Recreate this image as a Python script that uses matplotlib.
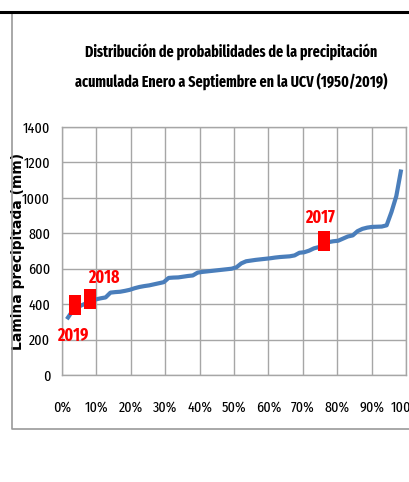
import matplotlib
matplotlib.use("Agg")
import matplotlib.pyplot as plt
from matplotlib.lines import Line2D
from matplotlib.ticker import PercentFormatter
import numpy as np

# precipitacion acumulada Enero-Septiembre (mm), ordenada de menor a mayor
lamina = [315, 355, 380, 393, 405, 415, 427, 433, 438, 465,
          468, 470, 475, 481, 490, 497, 502, 506, 512, 518,
          524, 548, 550, 551, 555, 559, 562, 578, 582, 585,
          588, 591, 594, 597, 600, 608, 630, 642, 646, 650,
          653, 656, 659, 663, 666, 668, 670, 675, 690, 693,
          702, 715, 722, 733, 750, 755, 758, 770, 782, 788,
          812, 825, 832, 836, 837, 838, 845, 920, 1010, 1160]

# anios destacados
anios = ["2019", "2018", "2017"]
prob_anios = [0.038, 0.081, 0.762]
lamina_anios = [397, 428, 757]

n = len(lamina)
prob = np.arange(1, n + 1) / (n + 1)

narrow = ["Fira Sans Extra Condensed", "DejaVu Sans"]

fig = plt.figure(figsize=(4.09, 4.82), dpi=100)
ax = fig.add_axes([62 / 409, 1 - 375 / 482, 344 / 409, 248 / 482])

ax.plot(prob, lamina, color="#4a7ebb", lw=3, solid_capstyle="butt", zorder=3)

rect = [(-0.5, -0.875), (0.5, -0.875), (0.5, 0.875), (-0.5, 0.875), (-0.5, -0.875)]
ax.scatter(prob_anios, lamina_anios, marker=rect, s=200, color="red", zorder=4, linewidths=0)

offsets = [(-2, -31), (14, 21), (-4, 23)]
for a, px, py, off in zip(anios, prob_anios, lamina_anios, offsets):
    ax.annotate(a, (px, py), xytext=off, textcoords="offset pixels",
                ha="center", va="center", color="red", fontweight="bold",
                fontsize=12.5, family=narrow)

ax.set_xlim(0, 1)
ax.set_ylim(0, 1400)
ax.set_xticks(np.arange(0, 1.01, 0.1))
ax.set_yticks(np.arange(0, 1401, 200))
ax.xaxis.set_major_formatter(PercentFormatter(1.0, decimals=0))
ax.grid(True, color="#a6a6a6", lw=1)
ax.set_axisbelow(True)
for s in ax.spines.values():
    s.set_color("#a6a6a6")
    s.set_linewidth(1)
ax.tick_params(length=0, labelsize=11, pad=8.5)
ax.tick_params(axis="x", pad=18)
for lab in ax.get_xticklabels() + ax.get_yticklabels():
    lab.set_family(narrow)

ax.set_ylabel("Lamina precipitada (mm)", fontweight="bold", fontsize=10,
              family="DejaVu Sans")
ax.yaxis.set_label_coords(-37 / 344, (376 - 252) / 248)

fig.text(231 / 409, 1 - 67 / 482,
         "Distribución de probabilidades de la precipitación\nacumulada Enero a Septiembre en la UCV (1950/2019)",
         ha="center", va="center", fontweight="bold", fontsize=11,
         family=narrow, linespacing=1.9)

# marco del grafico
fig.add_artist(Line2D([12 / 409, 12 / 409, 1], [1 - 13 / 482, 1 - 429 / 482, 1 - 429 / 482],
                      color="#9a9a9a", lw=1.2))
fig.add_artist(Line2D([0, 1], [1 - 11.5 / 482, 1 - 11.5 / 482], color="black", lw=2.2))

fig.savefig("out.png", dpi=100)
